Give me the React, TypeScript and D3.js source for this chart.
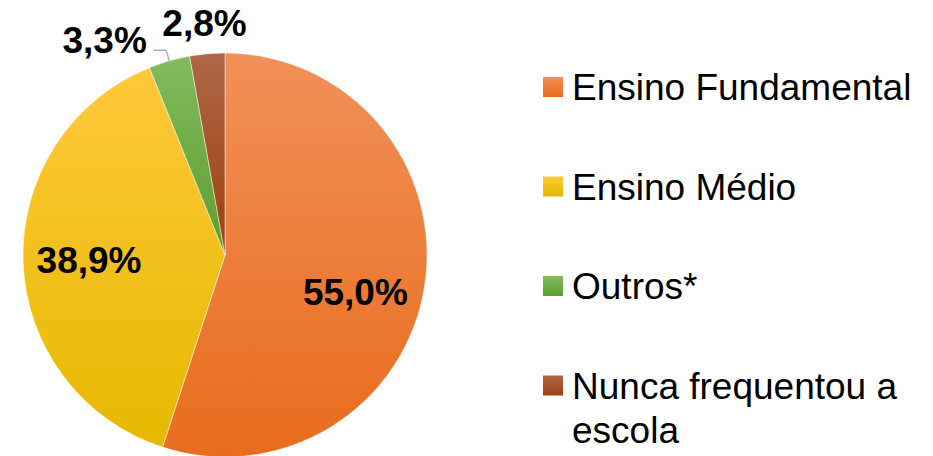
import React from 'react';
import * as d3 from 'd3';

// chart data
const categories = ['Ensino Fundamental', 'Ensino Médio', 'Outros*', 'Nunca frequentou a escola'];
const shares = [55.0, 38.9, 3.3, 2.8];
const legendLines = [['Ensino Fundamental'], ['Ensino Médio'], ['Outros*'], ['Nunca frequentou a', 'escola']];

// gradient colours per slice: [top, bottom]
const sliceColors = [
  ['#f29059', '#e86c1c'],
  ['#ffc93a', '#e6b800'],
  ['#82bb5e', '#5c9e2e'],
  ['#ae6748', '#a03f0c'],
];

// label layout: radius from centre and nudge (layout only)
const labelRadius = [135, 136, 233, 233];
const labelNudge = [[-3, 16], [0, 0], [-56, 9], [0, 0]];

const W = 933;
const H = 456;
const cx = 225;
const cy = 255;
const R = 202;
const FONT = '"Liberation Sans", Arial, sans-serif';

const fmt = (v: number) => v.toFixed(1).replace('.', ',') + '%';

export default function App() {
  const pie = d3.pie<number>().sort(null).value((d) => d)(shares);
  const arc = d3.arc<d3.PieArcDatum<number>>().innerRadius(0).outerRadius(R);

  const polar = (a: number, r: number) => [cx + r * Math.sin(a), cy - r * Math.cos(a)];

  return (
    <svg width={W} height={H} style={{ position: 'absolute', left: 0, top: 0, background: '#fff' }}>
      <defs>
        {sliceColors.map((c, i) => (
          <linearGradient key={i} id={`g${i}`} x1="0" y1="0" x2="0" y2="1">
            <stop offset="0%" stopColor={c[0]} />
            <stop offset="100%" stopColor={c[1]} />
          </linearGradient>
        ))}
      </defs>

      <g transform={`translate(${cx},${cy})`}>
        {pie.map((d, i) => (
          <path key={i} d={arc(d) || ''} fill={`url(#g${i})`} stroke="#ffffff" strokeOpacity={0.6} strokeWidth={0.8} />
        ))}
      </g>

      {pie.map((d, i) => {
        const mid = (d.startAngle + d.endAngle) / 2;
        const [bx, by] = polar(mid, labelRadius[i]);
        const x = bx + labelNudge[i][0];
        const y = by + labelNudge[i][1];
        return (
          <text key={i} x={x} y={y} dy="0.36em" textAnchor="middle" fontFamily={FONT} fontWeight="bold" fontSize={37} fill="#000">
            {fmt(shares[i])}
          </text>
        );
      })}

      {/* leader line for the small green slice */}
      {(() => {
        const d = pie[2];
        const mid = (d.startAngle + d.endAngle) / 2;
        const [ox, oy] = polar(mid, R);
        const [ex, ey] = polar(mid, R + 11);
        const [bx] = polar(mid, labelRadius[2]);
        const lx = bx + labelNudge[2][0] + 49;
        return <path d={`M${ox},${oy}L${ex},${ey}L${lx},${ey}`} fill="none" stroke="#a6b4c4" strokeWidth={1.5} />;
      })()}

      <g fontFamily={FONT} fontSize={37} fill="#000">
        {categories.map((c, i) => {
          const y = 100 + i * 99.5;
          return (
            <g key={c}>
              <rect x={543} y={y - 23} width={20} height={20} fill={`url(#g${i})`} />
              <text x={572} y={y}>
                {legendLines[i].map((line, j) => (
                  <tspan key={j} x={572} dy={j === 0 ? 0 : 44}>
                    {line}
                  </tspan>
                ))}
              </text>
            </g>
          );
        })}
      </g>
    </svg>
  );
}
